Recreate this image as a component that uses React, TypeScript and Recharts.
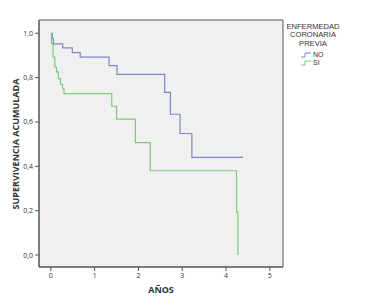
import React from "react";
import { LineChart, Line, XAxis, YAxis, ReferenceArea } from "recharts";

// Kaplan-Meier survival curves
const noTimes = [0, 0.03, 0.06, 0.27, 0.49, 0.67, 1.33, 1.51, 2.6, 2.73, 2.95, 3.22, 4.39];
const noSurv = [1.0, 0.976, 0.952, 0.934, 0.913, 0.893, 0.854, 0.815, 0.734, 0.635, 0.548, 0.44, 0.44];

const siTimes = [0, 0.015, 0.05, 0.09, 0.13, 0.17, 0.22, 0.27, 0.3, 1.39, 1.5, 1.93, 2.27, 4.24, 4.27];
const siSurv = [1.0, 0.953, 0.893, 0.848, 0.826, 0.796, 0.77, 0.75, 0.728, 0.671, 0.613, 0.507, 0.38, 0.192, 0.0];

const xTicks = [0, 1, 2, 3, 4, 5];
const yTicks = [0, 0.2, 0.4, 0.6, 0.8, 1.0];
const xDomain = [-0.27, 5.3];
const yDomain = [-0.054, 1.06];

const legendTitle = ["ENFERMEDAD", "CORONARIA", "PREVIA"];
const seriesNames = ["NO", "SI"];
const seriesColors = ["#7d87c4", "#7dc97b"];

const noData = noTimes.map((t, i) => ({ t, s: noSurv[i] }));
const siData = siTimes.map((t, i) => ({ t, s: siSurv[i] }));

const FONT = "'Open Sans', 'DejaVu Sans', sans-serif";
const LFONT = "'Liberation Sans', Arial, sans-serif";

const fmt = (v: number) => v.toFixed(1).replace(".", ",");

export default function App() {
  return (
    <div style={{ position: "absolute", left: 0, top: 0, width: 379, height: 304, background: "#fff", fontFamily: FONT }}>
      <LineChart
        width={379}
        height={304}
        margin={{ top: 20, right: 96, bottom: 0, left: 0 }}
      >
        <ReferenceArea
          x1={xDomain[0]}
          x2={xDomain[1]}
          y1={yDomain[0]}
          y2={yDomain[1]}
          fill="#f0f0f0"
          fillOpacity={1}
          stroke="#555"
          strokeWidth={1}
          ifOverflow="visible"
        />
        <XAxis
          type="number"
          dataKey="t"
          domain={xDomain}
          ticks={xTicks}
          height={37}
          tickSize={4}
          tickMargin={2}
          axisLine={{ stroke: "#555" }}
          tickLine={{ stroke: "#555" }}
          tick={{ fontSize: 7, fill: "#333", fontFamily: FONT }}
          allowDataOverflow
          label={{
            content: () => (
              <text x={161} y={292.5} textAnchor="middle" fontSize={9} fontWeight="bold" fill="#333" fontFamily={FONT}>
                AÑOS
              </text>
            ),
          }}
        />
        <YAxis
          type="number"
          dataKey="s"
          domain={yDomain}
          ticks={yTicks}
          width={39}
          tickSize={4}
          tickMargin={2}
          tickFormatter={fmt}
          axisLine={{ stroke: "#555" }}
          tickLine={{ stroke: "#555" }}
          tick={{ fontSize: 7, fill: "#333", fontFamily: FONT }}
          allowDataOverflow
          label={{
            content: () => (
              <text
                x={15}
                y={144}
                transform="rotate(-90, 15, 144)"
                textAnchor="middle"
                dominantBaseline="central"
                fontSize={9}
                fontWeight="bold"
                fill="#333"
                fontFamily={FONT}
              >
                SUPERVIVENCIA ACUMULADA
              </text>
            ),
          }}
        />
        <Line data={noData} dataKey="s" type="stepAfter" stroke={seriesColors[0]} strokeWidth={1.2} dot={false} isAnimationActive={false} />
        <Line data={siData} dataKey="s" type="stepAfter" stroke={seriesColors[1]} strokeWidth={1.2} dot={false} isAnimationActive={false} />
      </LineChart>
      <div style={{ position: "absolute", left: 283, top: 23, width: 60, textAlign: "center", fontFamily: LFONT, fontSize: 7.6, lineHeight: "8.4px", color: "#333" }}>
        {legendTitle.map((l) => (
          <div key={l}>{l}</div>
        ))}
      </div>
      <div style={{ position: "absolute", left: 300, top: 50.5, fontFamily: LFONT, fontSize: 7, lineHeight: "8.2px", color: "#333" }}>
        {seriesNames.map((n, i) => (
          <div key={n} style={{ display: "flex", alignItems: "center", height: 8.2 }}>
            <svg width={12} height={8} style={{ marginRight: 1 }}>
              <path d="M1,6 H5 V2 H11" fill="none" stroke={seriesColors[i]} strokeWidth={1} />
            </svg>
            <span>{n}</span>
          </div>
        ))}
      </div>
    </div>
  );
}
